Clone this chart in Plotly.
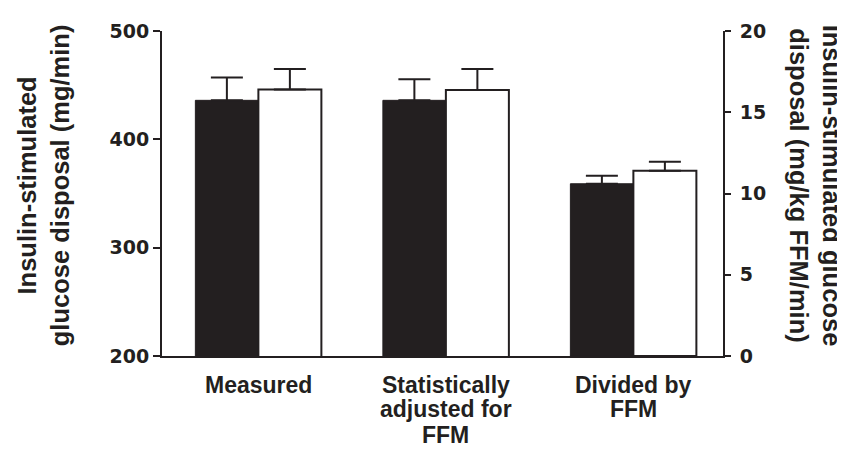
import plotly.graph_objects as go

# ---- data ----
categories = ["Measured", "Statistically adjusted for FFM", "Divided by FFM"]
category_lines = [["Measured"], ["Statistically", "adjusted for", "FFM"], ["Divided by", "FFM"]]

# left axis (mg/min): Measured, Statistically adjusted
black_mg = [436, 436]
black_mg_err = [21, 19.5]
white_mg = [446, 445.5]
white_mg_err = [19, 19.5]

# right axis (mg/kg FFM/min): Divided by FFM
black_ffm = [10.6]
black_ffm_err = [0.5]
white_ffm = [11.4]
white_ffm_err = [0.55]

left_ticks = [200, 300, 400, 500]
right_ticks = [0, 5, 10, 15, 20]

left_title = "Insulin-stimulated<br>glucose disposal (mg/min)"
right_title = "Insulin-stimulated glucose<br>disposal (mg/kg FFM/min)"

INK = "#231f20"
BW = 0.336

def err(arr):
    return dict(type="data", array=arr, arrayminus=[0] * len(arr), symmetric=False,
                color=INK, thickness=2, width=16)

fig = go.Figure()
fig.add_trace(go.Bar(x=categories[:2], y=black_mg, width=BW, offset=-BW,
                     marker=dict(color=INK, line=dict(color=INK, width=1)),
                     error_y=err(black_mg_err), yaxis="y", showlegend=False))
fig.add_trace(go.Bar(x=categories[:2], y=white_mg, width=BW, offset=0,
                     marker=dict(color="white", line=dict(color=INK, width=2)),
                     error_y=err(white_mg_err), yaxis="y", showlegend=False))
fig.add_trace(go.Bar(x=categories[2:], y=black_ffm, width=BW, offset=-BW,
                     marker=dict(color=INK, line=dict(color=INK, width=1)),
                     error_y=err(black_ffm_err), yaxis="y2", showlegend=False))
fig.add_trace(go.Bar(x=categories[2:], y=white_ffm, width=BW, offset=0,
                     marker=dict(color="white", line=dict(color=INK, width=2)),
                     error_y=err(white_ffm_err), yaxis="y2", showlegend=False))

tickfont = dict(family="DejaVu Sans", size=19, color=INK, weight="bold")

# page body has an 8px margin, so the figure is 8px smaller than the window
fig.update_layout(
    width=837, height=441,
    margin=dict(l=154, r=122, t=20, b=93),
    paper_bgcolor="white", plot_bgcolor="white",
    barmode="overlay",
    xaxis=dict(type="category", categoryorder="array", categoryarray=categories,
               range=[-0.514, 2.478], showline=True, linewidth=2, linecolor=INK,
               showticklabels=False, ticks="", showgrid=False, zeroline=False, fixedrange=True),
    yaxis=dict(range=[200, 500], tickvals=left_ticks, ticks="outside", ticklen=7, tickwidth=2,
               tickcolor=INK, showline=True, linewidth=2, linecolor=INK, showgrid=False,
               zeroline=False, tickfont=tickfont),
    yaxis2=dict(range=[0, 20], tickvals=right_ticks, overlaying="y", side="right",
                ticks="outside", ticklen=6, tickwidth=2, tickcolor=INK, showline=True,
                linewidth=2, linecolor=INK, showgrid=False, zeroline=False, tickfont=tickfont,
                ticklabelstandoff=5),
)

labfont = dict(family="Liberation Sans", size=23, color=INK, weight="bold")
line_y = [-0.0884, -0.1646, -0.2439]
for cat, lines in zip(categories, category_lines):
    for i, ln in enumerate(lines):
        fig.add_annotation(x=cat, xref="x", y=line_y[i], yref="paper", text=ln,
                           showarrow=False, xanchor="center", yanchor="middle", font=labfont)

titlefont = dict(family="Liberation Sans", size=25.5, color=INK, weight="bold")
fig.add_annotation(x=-0.2112, xref="paper", y=0.524, yref="paper", text=left_title,
                   textangle=-90, showarrow=False, xanchor="center", yanchor="middle",
                   font=titlefont)
fig.add_annotation(x=1.164, xref="paper", y=0.524, yref="paper", text=right_title,
                   textangle=90, showarrow=False, xanchor="center", yanchor="middle",
                   font=titlefont)

fig.write_html("out.html")
